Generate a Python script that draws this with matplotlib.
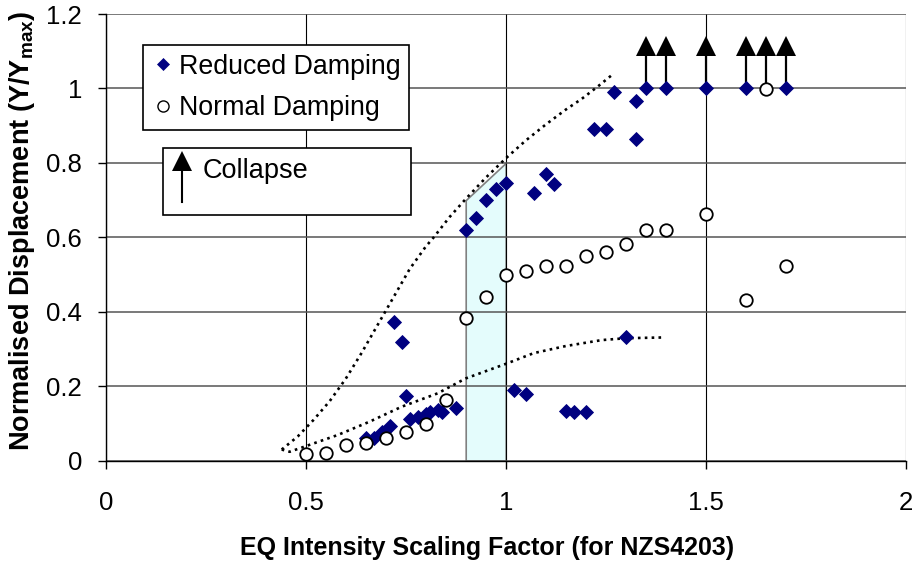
import matplotlib
matplotlib.use('Agg')
import matplotlib.pyplot as plt
from matplotlib.lines import Line2D
from matplotlib.patches import Rectangle

plt.rcParams['font.family'] = ['Liberation Sans', 'DejaVu Sans']
plt.rcParams['mathtext.fontset'] = 'custom'
plt.rcParams['mathtext.rm'] = 'Liberation Sans'
plt.rcParams['mathtext.bf'] = 'Liberation Sans:bold'

# ---------------- data ----------------
reduced_x = [0.65, 0.67, 0.69, 0.71, 0.75, 0.76, 0.78, 0.80, 0.81, 0.83, 0.84, 0.875,
             0.72, 0.74,
             0.90, 0.925, 0.95, 0.975, 1.00,
             1.07, 1.10, 1.12,
             1.02, 1.05, 1.15, 1.17, 1.20, 1.30,
             1.22, 1.25, 1.27, 1.325, 1.325,
             1.35, 1.40, 1.50, 1.60, 1.70]
reduced_y = [0.062, 0.06, 0.077, 0.092, 0.174, 0.113, 0.118, 0.126, 0.132, 0.136, 0.132, 0.142,
             0.372, 0.32,
             0.621, 0.651, 0.70, 0.729, 0.745,
             0.72, 0.77, 0.743,
             0.19, 0.179, 0.134, 0.13, 0.13, 0.331,
             0.89, 0.89, 0.991, 0.965, 0.864,
             1.0, 1.0, 1.0, 1.0, 1.0]

normal_x = [0.50, 0.55, 0.60, 0.65, 0.70, 0.75, 0.80, 0.85, 0.90, 0.95, 1.00, 1.05,
            1.10, 1.15, 1.20, 1.25, 1.30, 1.35, 1.40, 1.50, 1.60, 1.65, 1.70]
normal_y = [0.018, 0.022, 0.042, 0.048, 0.06, 0.078, 0.098, 0.163, 0.383, 0.441, 0.50, 0.51,
            0.523, 0.523, 0.55, 0.56, 0.582, 0.62, 0.62, 0.663, 0.431, 0.998, 0.523]

collapse_x = [1.35, 1.40, 1.50, 1.60, 1.65, 1.70]
collapse_from = 1.0

trend_upper_x = [0.44, 0.48, 0.52, 0.56, 0.60, 0.64, 0.68, 0.72, 0.76, 0.80, 0.82, 0.86,
                 0.90, 0.95, 1.00, 1.05, 1.10, 1.15, 1.19, 1.23, 1.27]
trend_upper_y = [0.03, 0.065, 0.11, 0.16, 0.22, 0.29, 0.365, 0.44, 0.515, 0.575, 0.60, 0.655,
                 0.703, 0.76, 0.812, 0.86, 0.903, 0.943, 0.972, 1.005, 1.04]

trend_lower_x = [0.44, 0.46, 0.50, 0.58, 0.66, 0.74, 0.83, 0.90, 1.00, 1.07, 1.15, 1.24, 1.30, 1.39]
trend_lower_y = [0.03, 0.024, 0.039, 0.069, 0.105, 0.145, 0.181, 0.221, 0.26, 0.289, 0.308, 0.324,
                 0.329, 0.331]

band_x = [0.9, 1.0]
band_top = [0.70, 0.80]

x_ticks = [0, 0.5, 1, 1.5, 2]
x_tick_labels = ['0', '0.5', '1', '1.5', '2']
y_ticks = [0, 0.2, 0.4, 0.6, 0.8, 1.0, 1.2]
y_tick_labels = ['0', '0.2', '0.4', '0.6', '0.8', '1', '1.2']

# ---------------- figure ----------------
fig = plt.figure(figsize=(9.17, 5.63), dpi=100)
ax = fig.add_axes([105.7 / 917, 1 - 460.7 / 563, 800 / 917, 446.7 / 563])


def fx(px):
    return (px - 105.7) / 800


def fy(py):
    return (460.7 - py) / 446.7


ax.set_xlim(0, 2)
ax.set_ylim(0, 1.2)
ax.set_xticks(x_ticks)
ax.set_xticklabels(x_tick_labels)
ax.set_yticks(y_ticks)
ax.set_yticklabels(y_tick_labels)

ax.set_axisbelow(True)
ax.xaxis.grid(True, color='black', lw=0.8)
ax.yaxis.grid(True, color='#555555', lw=1.1)
for s in ['top', 'right']:
    ax.spines[s].set_visible(False)
for s in ['left', 'bottom']:
    ax.spines[s].set_linewidth(1.0)
ax.tick_params(axis='both', direction='out', length=6, width=1, labelsize=18.5)
ax.tick_params(axis='y', pad=11)
ax.tick_params(axis='x', pad=16)

# shaded band
ax.fill_between(band_x, 0, band_top, facecolor='#E4FCFC', edgecolor='#808080', lw=1.2, zorder=0.2)

# trend lines
ax.plot(trend_upper_x, trend_upper_y, color='black', lw=1.9, ls=(0, (1, 1.6)), zorder=2)
ax.plot(trend_lower_x, trend_lower_y, color='black', lw=1.9, ls=(0, (1, 1.6)), zorder=2)

# collapse arrows
ax.vlines(collapse_x, collapse_from, 1.087, color='black', lw=1.6, zorder=3)
ax.plot(collapse_x, [1.115] * len(collapse_x), ls='none', marker='^', ms=14.9,
        color='black', mew=0, zorder=3)

# data
ax.plot(reduced_x, reduced_y, ls='none', marker='D', ms=7.4, mfc='#000080', mec='#000080',
        mew=0.6, zorder=4)
ax.plot(normal_x, normal_y, ls='none', marker='o', ms=9.0, mfc='white', mec='black',
        mew=1.3, zorder=5)

# legend
h1 = Line2D([], [], ls='none', marker='D', ms=6.5, mfc='#000080', mec='#000080', mew=0.5)
h2 = Line2D([], [], ls='none', marker='o', ms=8, mfc='white', mec='black', mew=1.0)
leg = ax.legend([h1, h2], ['Reduced Damping', 'Normal Damping'], loc='upper left',
                bbox_to_anchor=(fx(143), fy(45)),
                borderaxespad=0, fontsize=19.3, frameon=True, fancybox=False,
                edgecolor='black', framealpha=1, handlelength=0.8, handletextpad=0.2,
                borderpad=0.33, labelspacing=0.58)
leg.get_frame().set_linewidth(1.2)
leg.set_zorder(10)

# collapse box
ax.add_patch(Rectangle((fx(163), fy(215)), fx(411) - fx(163), fy(148) - fy(215),
                       transform=ax.transAxes, facecolor='white', edgecolor='black',
                       lw=1.2, zorder=10, clip_on=False))
ax.add_line(Line2D([fx(182), fx(182)], [fy(202), fy(170)], transform=ax.transAxes,
                   color='black', lw=1.5, zorder=11))
ax.add_line(Line2D([fx(182)], [fy(161)], transform=ax.transAxes, ls='none', marker='^',
                   ms=14.5, color='black', mew=0, zorder=11))
ax.text(fx(203), fy(178.3), 'Collapse', transform=ax.transAxes, fontsize=19.5,
        va='baseline', ha='left', zorder=12)

# axis labels
ax.set_xlabel('EQ Intensity Scaling Factor (for NZS4203)', fontsize=18, fontweight='bold',
              va='baseline')
ax.xaxis.set_label_coords(fx(487), fy(555))
ax.set_ylabel('Normalised Displacement (Y/Y$_{\\mathbf{max}}$)', fontsize=19.5,
              fontweight='bold')
ax.yaxis.set_label_coords(fx(37), fy(231))

fig.savefig('out.png', dpi=100)
